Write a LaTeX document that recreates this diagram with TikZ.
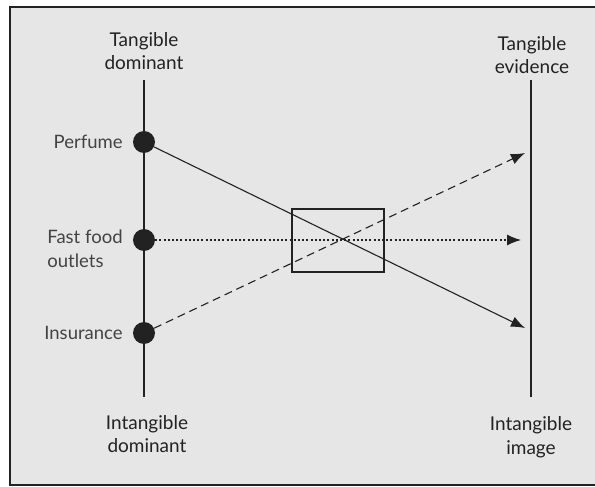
\documentclass[tikz,border=0pt]{standalone}
\usepackage{fontspec}
\setmainfont{Lato}
\usetikzlibrary{positioning,arrows.meta}

\definecolor{panel}{HTML}{E6E6E6}
\definecolor{ink}{HTML}{222222}

\tikzset{
  axis/.style={line width=2pt, draw=ink},
  dot/.style={circle, fill=ink, inner sep=0pt, minimum size=22pt},
  head/.style={align=center, text=ink, font=\fontsize{19}{23.5}\selectfont},
  side/.style={align=left, text=ink!85, font=\fontsize{18.5}{23.5}\selectfont, inner sep=2pt},
  tip/.style={-{Latex[length=14pt,width=11pt]}, line width=1.1pt, draw=ink},
}

\begin{document}
\begin{tikzpicture}[x=1pt, y=-1pt]
\useasboundingbox (0,0) rectangle (595,487);

% frame
\draw[fill=panel, line width=1.8pt, draw=ink] (10,7) rectangle (605,485);

% left axis
\coordinate (ltop) at (144,80);
\coordinate (lbot) at (144,397);
\draw[axis] (ltop) -- (lbot);
\node[head] (tdom) at (144,51) {Tangible\\dominant};
\node[head] (idom) at (147,434) {Intangible\\dominant};

% right axis
\coordinate (rtop) at (531,80);
\coordinate (rbot) at (531,397);
\draw[axis] (rtop) -- (rbot);
\node[head] (tevi) at (532,55) {Tangible\\evidence};
\node[head] (iimg) at (531,437) {Intangible\\image};

% products
\node[dot] (perfume) at (144,142) {};
\node[dot] (fastfood) at (144,240) {};
\node[dot] (insurance) at (144,333) {};
\node[side, left=8pt of perfume] (perfumelabel) {Perfume};
\node[side, left=8pt of fastfood, yshift=-9pt] (fastfoodlabel) {Fast food\\outlets};
\node[side, left=8pt of insurance] (insurancelabel) {Insurance};

% arrow ends
\coordinate (pend) at (525,328);
\coordinate (fend) at (521,240);
\coordinate (iend) at (525,153);

\draw[tip] (perfume) -- (pend);
\draw[tip, dash pattern=on 8pt off 5pt] (insurance) -- (iend);
\draw[tip, dash pattern=on 2pt off 2.2pt] (fastfood) -- (fend);

% middle box
\node[draw=ink, line width=2pt, minimum width=92pt, minimum height=63pt, inner sep=0pt] (mix) at (338,240) {};

\end{tikzpicture}
\end{document}
